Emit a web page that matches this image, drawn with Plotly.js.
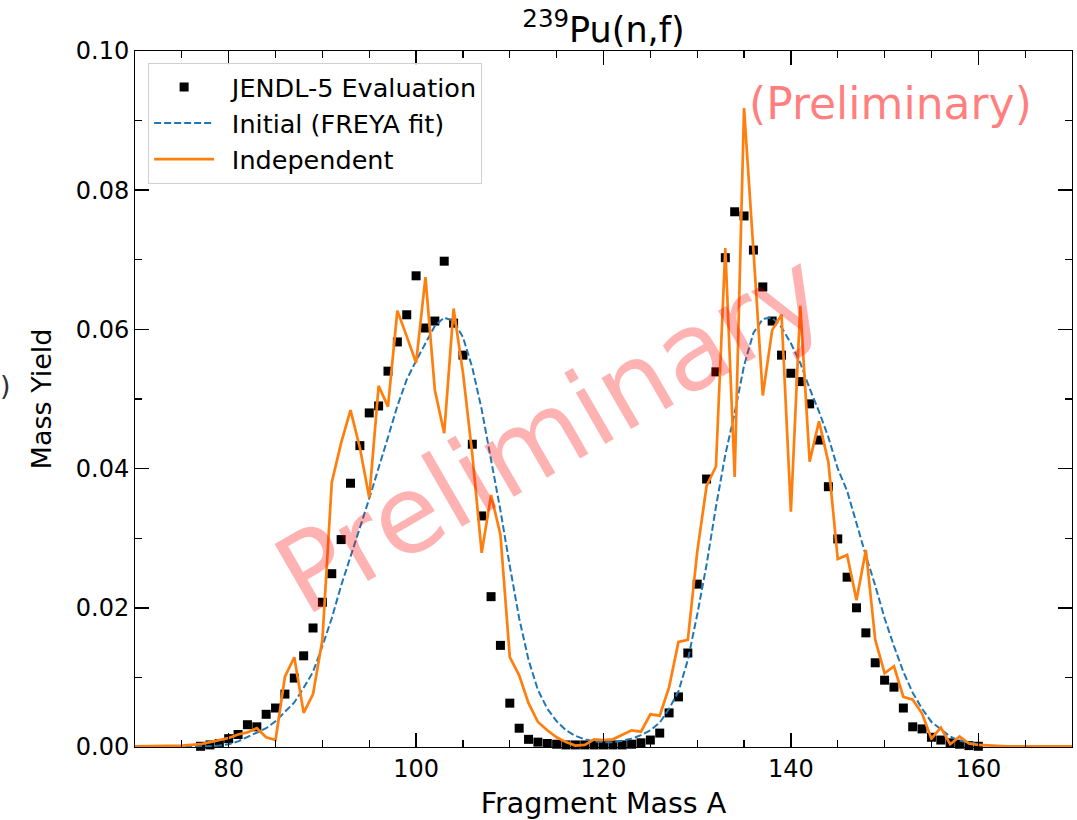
<!DOCTYPE html>
<html>
<head>
<meta charset="utf-8">
<script src="https://cdn.plot.ly/plotly-3.0.1.min.js"></script>
<style>html,body{margin:0;padding:0;background:#fff;}#chart{width:1077px;height:820px;}</style>
</head>
<body>
<div id="chart"></div>
<script>
// JENDL-5 evaluation (mass number and yield)
var jendlA = [77,78,79,80,81,82,83,84,85,86,87,88,89,90,91,92,93,94,95,96,97,98,99,100,
  101,102,103,104,105,106,107,108,109,110,111,112,113,114,115,116,117,118,119,120,
  121,122,123,124,125,126,127,128,129,130,131,132,133,134,135,136,137,138,139,140,
  141,142,143,144,145,146,147,148,149,150,151,152,153,154,155,156,157,158,159,160];
var jendlY = [0.0001,0.0003,0.0005,0.0012,0.0018,0.0032,0.0029,0.0047,0.0056,0.0076,0.0099,0.0131,0.0171,0.0208,0.0249,0.0298,0.0379,0.0433,0.0480,0.0490,0.0540,0.0582,0.0621,0.0677,
  0.0602,0.0612,0.0698,0.0609,0.0563,0.0435,0.0332,0.0216,0.0146,0.0063,0.0027,0.0011,0.0007,0.0005,0.0004,0.0003,0.0003,0.0003,0.0003,0.0003,
  0.0003,0.0003,0.0004,0.0006,0.0010,0.0020,0.0049,0.0072,0.0135,0.0234,0.0385,0.0539,0.0703,0.0769,0.0763,0.0714,0.0661,0.0612,0.0563,0.0537,
  0.0525,0.0493,0.0441,0.0374,0.0299,0.0244,0.0200,0.0164,0.0121,0.0096,0.0086,0.0056,0.0029,0.0026,0.0014,0.0010,0.0006,0.0004,0.0002,0.0001];

// model curves on the mass grid 70..170
var massA = [70,71,72,73,74,75,76,77,78,79,80,81,82,83,84,85,86,87,88,89,90,91,92,93,94,95,96,97,98,99,
  100,101,102,103,104,105,106,107,108,109,110,111,112,113,114,115,116,117,118,119,
  120,121,122,123,124,125,126,127,128,129,130,131,132,133,134,135,136,137,138,139,
  140,141,142,143,144,145,146,147,148,149,150,151,152,153,154,155,156,157,158,159,
  160,161,162,163,164,165,166,167,168,169,170];
var freyaY = [0,0,0,0,0,0,0,0.0001,0.0001,0.0002,0.0004,0.0008,0.0014,0.0020,0.0027,0.0037,0.0050,0.0064,0.0085,0.0108,0.0145,0.0185,0.0232,0.0275,0.0315,0.0357,0.0400,0.0445,0.0490,0.0528,
  0.0555,0.0580,0.0605,0.0617,0.0612,0.0589,0.0545,0.0485,0.0415,0.0340,0.0260,0.0185,0.0125,0.0082,0.0055,0.0037,0.0024,0.0016,0.0011,0.0008,
  0.0007,0.0007,0.0009,0.0012,0.0017,0.0024,0.0035,0.0055,0.0080,0.0125,0.0190,0.0262,0.0345,0.0420,0.0480,0.0548,0.0595,0.0615,0.0617,0.0603,
  0.0580,0.0552,0.0515,0.0482,0.0445,0.0400,0.0368,0.0320,0.0275,0.0232,0.0185,0.0145,0.0108,0.0078,0.0055,0.0036,0.0025,0.0015,0.0009,0.0006,
  0.0004,0.0002,0.0001,0.0001,0,0,0,0,0,0,0];
var indepY = [0.0001,0.0001,0.0001,0.0001,0.0001,0.0002,0.0003,0.0004,0.0007,0.0010,0.0013,0.0018,0.0021,0.0027,0.0014,0.0010,0.0101,0.0129,0.0049,0.0076,0.0154,0.0380,0.0437,0.0484,0.0430,0.0358,0.0519,0.0489,0.0627,0.0590,
  0.0552,0.0675,0.0513,0.0451,0.0630,0.0538,0.0420,0.0279,0.0362,0.0305,0.0129,0.0103,0.0063,0.0036,0.0024,0.0014,0.0007,0.0002,0.0003,0.0011,
  0.0010,0.0011,0.0017,0.0024,0.0022,0.0047,0.0045,0.0086,0.0151,0.0154,0.0280,0.0375,0.0403,0.0717,0.0388,0.0918,0.0714,0.0505,0.0599,0.0621,
  0.0338,0.0634,0.0410,0.0468,0.0409,0.0270,0.0276,0.0211,0.0283,0.0154,0.0106,0.0116,0.0072,0.0068,0.0048,0.0012,0.0028,0.0004,0.0015,0.0005,
  0.0003,0.0002,0.0001,0.0001,0.0001,0.0001,0.0001,0.0001,0.0001,0.0001,0.0001];

var seriesNames = ['\u2002JENDL-5 Evaluation', '\u2002Initial (FREYA fit)', '\u2002Independent'];

var FONT = 'DejaVu Sans, Verdana, sans-serif';

var traces = [
  {x: jendlA, y: jendlY, type: 'scatter', mode: 'markers', name: seriesNames[0],
   legendgroup: 'g1', cliponaxis: false,
   marker: {symbol: 'square', size: 9, color: '#000000', line: {width: 0}}},
  {x: massA, y: freyaY, type: 'scatter', mode: 'lines', name: seriesNames[1],
   legendgroup: 'g2',
   line: {color: '#1f77b4', width: 2, dash: '7px,3px'}},
  {x: massA, y: indepY, type: 'scatter', mode: 'lines', name: seriesNames[2],
   legendgroup: 'g3',
   line: {color: '#ff7f0e', width: 2.7}}
];

var layout = {
  width: 1077, height: 820,
  margin: {l: 135, r: 5, t: 51, b: 73, pad: 0},
  paper_bgcolor: '#ffffff', plot_bgcolor: '#ffffff',
  font: {family: FONT, color: '#000000', size: 24},
  showlegend: true,
  title: {text: '<sup>239</sup>Pu(n,f)', font: {family: FONT, size: 35, color: '#000'},
          xref: 'paper', x: 0.5, xanchor: 'center', yref: 'paper', y: 1, yanchor: 'bottom', pad: {b: 9}},
  xaxis: {
    range: [70, 170], dtick: 20, tick0: 0,
    ticks: 'inside', ticklen: 14, tickwidth: 1.5, tickcolor: '#000',
    showline: true, linecolor: '#000', linewidth: 1, mirror: 'allticks',
    showgrid: false, zeroline: false,
    tickfont: {family: FONT, size: 24, color: '#000'},
    minor: {dtick: 5, ticks: 'inside', ticklen: 7, tickwidth: 1.2, tickcolor: '#000', showgrid: false},
    title: {text: 'Fragment Mass A', font: {family: FONT, size: 28.5, color: '#000'}}
  },
  yaxis: {
    range: [0, 0.1], dtick: 0.02, tick0: 0, tickformat: '.2f',
    ticks: 'inside', ticklen: 14, tickwidth: 1.5, tickcolor: '#000',
    showline: true, linecolor: '#000', linewidth: 1, mirror: 'allticks',
    showgrid: false, zeroline: false,
    tickfont: {family: FONT, size: 24, color: '#000'},
    minor: {dtick: 0.01, ticks: 'inside', ticklen: 7, tickwidth: 1.2, tickcolor: '#000', showgrid: false},
    automargin: true,
    title: {text: 'Mass Yield', standoff: 16, font: {family: FONT, size: 27, color: '#000'}}
  },
  legend: {
    x: 0.014, y: 0.983, xanchor: 'left', yanchor: 'top',
    bgcolor: 'rgba(255,255,255,0.85)', bordercolor: '#d0d0d0', borderwidth: 1,
    font: {family: FONT, size: 25.5, color: '#000'},
    traceorder: 'grouped', tracegroupgap: 0, itemwidth: 60
  },
  annotations: [
    {text: 'Preliminary', xref: 'paper', yref: 'paper', x: 0.443, y: 0.452,
     xanchor: 'center', yanchor: 'middle',
     showarrow: false, textangle: -30,
     font: {family: FONT, size: 108, color: 'rgba(255,0,0,0.3)'}},
    {text: '(Preliminary)', xref: 'paper', yref: 'paper', x: 0.806, y: 0.925,
     xanchor: 'center', yanchor: 'middle',
     showarrow: false, font: {family: FONT, size: 44, color: 'rgba(255,0,0,0.5)'}},
    {text: ')', xref: 'paper', yref: 'paper', x: -0.1387, y: 0.52,
     xanchor: 'center', yanchor: 'middle',
     showarrow: false, font: {family: FONT, size: 27, color: '#333'}}
  ]
};

Plotly.newPlot('chart', traces, layout, {displayModeBar: false, staticPlot: true});
</script>
</body>
</html>
